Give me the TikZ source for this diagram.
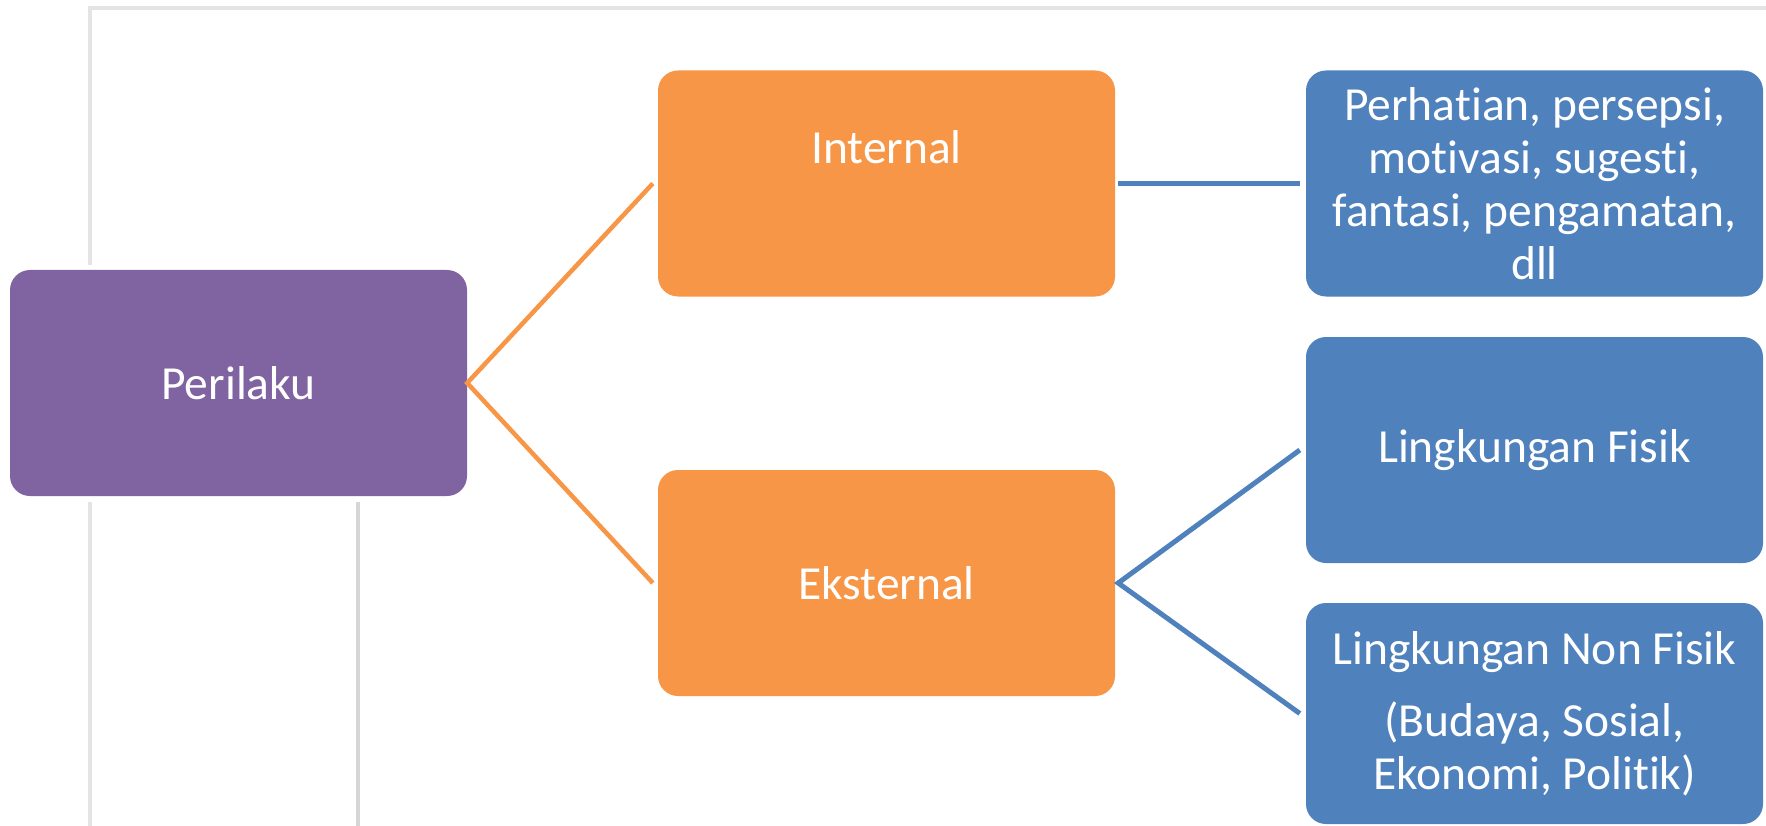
\documentclass[tikz,border=0pt]{standalone}
\usepackage{fontspec}
\setmainfont{Carlito}[Ligatures=NoCommon]
\definecolor{purp}{HTML}{8064A2}
\definecolor{orng}{HTML}{F79646}
\definecolor{blu}{HTML}{4F81BD}
\definecolor{framegray}{HTML}{E4E4E4}
\definecolor{framedark}{HTML}{D6D6D6}
\begin{document}
\begin{tikzpicture}[x=1pt,y=-1pt,
  box/.style={rounded corners=20pt, inner sep=0pt, text=white,
    font=\fontsize{47.5}{53}\selectfont, align=center,
    minimum width=457pt, minimum height=226pt},
  boxtext/.style={inner sep=0pt, text=white, font=\fontsize{47.5}{53}\selectfont, align=center},
  orangelink/.style={draw=orng, line width=4.5pt},
  bluelink/.style={draw=blu, line width=5pt},
  framelight/.style={draw=framegray, line width=3.5pt},
  framedarkline/.style={draw=framedark, line width=3.5pt}]
\useasboundingbox (0,0) rectangle (1766,826);
\fill[white] (0,0) rectangle (1766,826);
% background frame
\draw[framelight] (90,265) -- (90,8) -- (1766,8);
\draw[framelight] (90,502) -- (90,826);
\draw[framedarkline] (358,502) -- (358,826);
% nodes
\node[box, fill=purp] (per) at (238.5,383) {Perilaku};
\node[box, fill=orng] (int) at (886.5,183.5) {};
\node[boxtext] (intlabel) at ([yshift=36pt]int.center) {Internal};
\node[box, fill=orng] (eks) at (886.5,583) {Eksternal};
\node[box, fill=blu] (b1) at (1534.5,183.5) {Perhatian, persepsi,\\motivasi, sugesti,\\fantasi, pengamatan,\\dll};
\node[box, fill=blu] (b2) at (1534.5,450) {Lingkungan Fisik};
\node[box, fill=blu, minimum height=221pt] (b3) at (1534.5,713.5) {Lingkungan Non Fisik\\[19pt](Budaya, Sosial,\\Ekonomi, Politik)};
% connectors
\draw[orangelink] ([xshift=-5pt]int.west) -- (per.east) -- ([xshift=-5pt]eks.west);
\draw[bluelink] ([xshift=3pt]int.east) -- ([xshift=-6pt]b1.west);
\draw[bluelink] ([xshift=-6pt]b2.west) -- ([xshift=3pt]eks.east) -- ([xshift=-6pt]b3.west);
\end{tikzpicture}
\end{document}
